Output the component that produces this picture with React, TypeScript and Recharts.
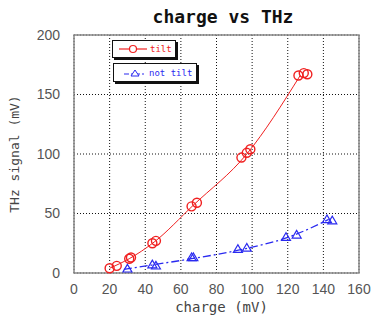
import {
  ComposedChart,
  Scatter,
  XAxis,
  YAxis,
  CartesianGrid,
  Legend,
  ReferenceArea,
} from 'recharts'

// tilt series (charge mV, THz signal mV)
const tiltCharge = [20, 24, 31, 32, 44, 46, 66, 69, 94, 97, 99, 126, 129, 131]
const tiltSignal = [4, 6, 12, 13, 25, 27, 56, 59, 97, 101, 104, 166, 168, 167]

// not tilt series
const notTiltCharge = [30, 44, 46, 66, 67, 92, 97, 119, 125, 142, 145]
const notTiltSignal = [3.5, 7, 6, 13, 13, 20, 21, 30, 32, 45, 44]

// trend curves
const tiltFitCharge = [20, 31, 45, 67, 97, 127]
const tiltFitSignal = [4, 12, 26, 57, 100, 166]
const notTiltFitCharge = [28, 45, 66, 95, 122, 143]
const notTiltFitSignal = [3, 7, 12, 20, 31, 45]

const xTicks = [0, 20, 40, 60, 80, 100, 120, 140, 160]
const yTicks = [0, 50, 100, 150, 200]

const zip = (xs: number[], ys: number[]) => xs.map((x, i) => ({ x, y: ys[i] }))
const tiltData = zip(tiltCharge, tiltSignal)
const notTiltData = zip(notTiltCharge, notTiltSignal)
const tiltFit = zip(tiltFitCharge, tiltFitSignal)
const notTiltFit = zip(notTiltFitCharge, notTiltFitSignal)

const RED = '#f02020'
const BLUE = '#2a2af0'

const OpenCircle = (props: any) => (
  <circle cx={props.cx} cy={props.cy} r={4.5} fill="none" stroke={RED} strokeWidth={1.4} />
)

const OpenTriangle = (props: any) => {
  const { cx, cy } = props
  const s = 4.5
  return (
    <polygon
      points={`${cx},${cy - s} ${cx - s},${cy + s * 0.7} ${cx + s},${cy + s * 0.7}`}
      fill="none"
      stroke={BLUE}
      strokeWidth={1.2}
    />
  )
}

const NoDot = () => <g />

const legendBox: React.CSSProperties = {
  position: 'absolute',
  background: '#fff',
  border: '1.5px solid #111',
  boxShadow: '2px 2px 0 #111',
  display: 'flex',
  alignItems: 'center',
  fontFamily: '"DejaVu Sans Mono", monospace',
  fontSize: 9,
  boxSizing: 'border-box',
}

function LegendBoxes() {
  return (
    <div style={{ position: 'relative', width: 0, height: 0 }}>
      <div style={{ ...legendBox, left: 112, top: 40, width: 64, height: 18, color: RED }}>
        <svg width={28} height={10} style={{ marginLeft: 6, marginRight: 3 }}>
          <line x1={0} y1={5} x2={28} y2={5} stroke={RED} strokeWidth={1.2} />
          <circle cx={14} cy={5} r={3.5} fill="#fff" stroke={RED} strokeWidth={1.2} />
        </svg>
        tilt
      </div>
      <div style={{ ...legendBox, left: 113, top: 63, width: 84, height: 19, color: BLUE }}>
        <svg width={22} height={10} style={{ marginLeft: 10, marginRight: 3 }}>
          <line x1={0} y1={6} x2={22} y2={6} stroke={BLUE} strokeWidth={1.2} strokeDasharray="5 2 2 2" />
          <polygon points="11,2 7,8 15,8" fill="#fff" stroke={BLUE} strokeWidth={1} />
        </svg>
        not tilt
      </div>
    </div>
  )
}

export default function App() {
  const axisFont = { fontSize: 14, fill: '#555', fontFamily: '"Liberation Sans", Arial, sans-serif' }
  return (
    <div style={{ position: 'absolute', left: 0, top: 0, width: 371, height: 315, background: '#fff' }}>
      <div
        style={{
          position: 'absolute',
          left: 0,
          width: 446,
          top: 6,
          textAlign: 'center',
          fontFamily: '"DejaVu Sans Mono", monospace',
          fontWeight: 'bold',
          fontSize: 18,
          color: '#111',
        }}
      >
        charge vs THz
      </div>
      <ComposedChart
        width={371}
        height={315}
        margin={{ top: 35, right: 12, left: 0, bottom: 0 }}
      >
        <CartesianGrid xAxisId="b" yAxisId="l" stroke="#111" strokeDasharray="1 2" />
        <XAxis
          xAxisId="b"
          type="number"
          dataKey="x"
          domain={[0, 160]}
          ticks={xTicks}
          height={42}
          tickLine={false}
          tickMargin={5}
          tick={axisFont}
          axisLine={false}
          label={{ value: 'charge (mV)', position: 'insideBottom', offset: 3, dx: 5, fill: '#444', fontSize: 14, fontFamily: '"DejaVu Sans Mono", monospace' }}
        />
        <YAxis
          yAxisId="l"
          type="number"
          dataKey="y"
          domain={[0, 200]}
          ticks={yTicks}
          width={74}
          tickLine={false}
          tickMargin={8}
          tick={axisFont}
          axisLine={false}
          label={{ value: 'THz signal (mV)', angle: -90, position: 'insideLeft', offset: 14, fill: '#444', fontSize: 13, fontFamily: '"DejaVu Sans Mono", monospace', style: { textAnchor: 'middle' } }}
        />
        <ReferenceArea xAxisId="b" yAxisId="l" x1={0} x2={160} y1={0} y2={200} fill="none" stroke="#888" strokeWidth={1.5} />
        <Legend content={() => <LegendBoxes />} wrapperStyle={{ left: 0, top: 0, width: 0, height: 0 }} />
        <Scatter
          name="tilt fit"
          xAxisId="b"
          yAxisId="l"
          data={tiltFit}
          shape={NoDot}
          line={{ stroke: RED, strokeWidth: 1 }}
          lineType="joint"
          lineJointType="monotoneX"
          legendType="none"
          isAnimationActive={false}
        />
        <Scatter
          name="not tilt fit"
          xAxisId="b"
          yAxisId="l"
          data={notTiltFit}
          shape={NoDot}
          line={{ stroke: BLUE, strokeWidth: 1.3, strokeDasharray: '8 3 2 3' }}
          lineType="joint"
          lineJointType="monotoneX"
          legendType="none"
          isAnimationActive={false}
        />
        <Scatter name="tilt" xAxisId="b" yAxisId="l" data={tiltData} shape={OpenCircle} isAnimationActive={false} />
        <Scatter name="not tilt" xAxisId="b" yAxisId="l" data={notTiltData} shape={OpenTriangle} isAnimationActive={false} />
      </ComposedChart>
    </div>
  )
}
